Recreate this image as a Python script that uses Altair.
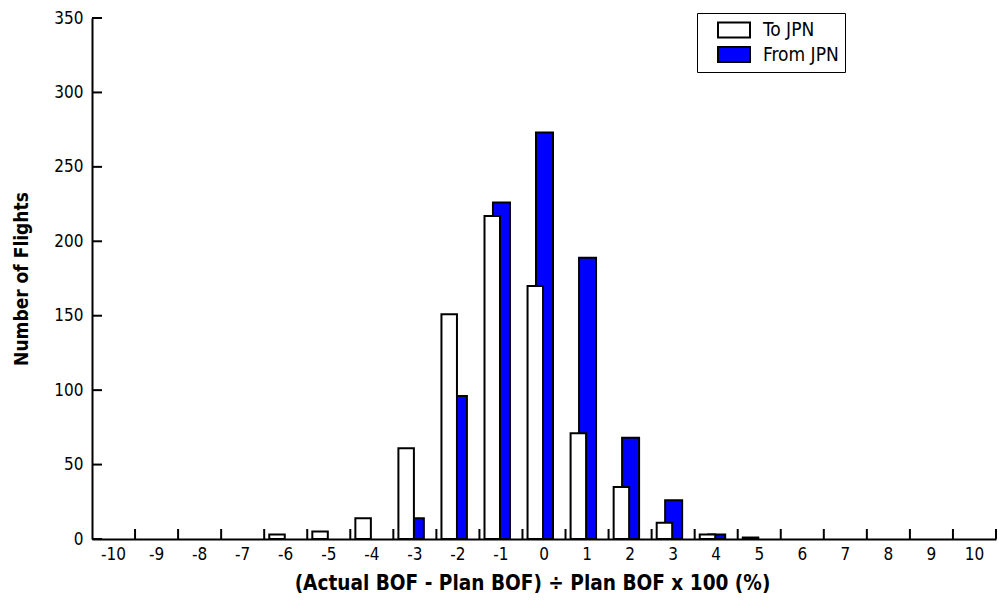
import altair as alt
import pandas as pd

# ---- data ----
bins = list(range(-10, 11))
to_jpn = [0, 0, 0, 0, 3, 5, 14, 61, 151, 217, 170, 71, 35, 11, 3, 1, 0, 0, 0, 0, 0]
from_jpn = [0, 0, 0, 0, 0, 0, 0, 14, 96, 226, 273, 189, 68, 26, 3, 0, 0, 0, 0, 0, 0]
series = ["To JPN", "From JPN"]
y_ticks = list(range(0, 351, 50))

rows = []
for b, t, f in zip(bins, to_jpn, from_jpn):
    rows.append({"bin": b, "series": "To JPN", "flights": t})
    rows.append({"bin": b, "series": "From JPN", "flights": f})
df = pd.DataFrame(rows)
df = df[df["flights"] > 0]

W, H = 904, 521
FONT = "DejaVu Sans Condensed"

x_scale = alt.Scale(type="band", domain=bins, paddingInner=0, paddingOuter=0)
y_scale = alt.Scale(domain=[0, 350], nice=False)
fill_scale = alt.Scale(domain=series, range=["#ffffff", "#0000ff"])

x_axis = alt.Axis(
    title="(Actual BOF - Plan BOF) ÷ Plan BOF x 100 (%)",
    labelAngle=0, ticks=False, labelPadding=7, titlePadding=11, grid=False,
    titleX=440, titleFontSize=20.6,
)
y_axis = alt.Axis(
    title="Number of Flights", values=y_ticks, ticks=False, grid=False,
    labelPadding=9, titlePadding=22, titleFontSize=19,
)

legend = alt.Legend(
    title=None, orient="none", legendX=605, legendY=-5,
    symbolType="M-1.6,-0.75H1.6V0.75H-1.6Z", symbolSize=400,
    symbolStrokeColor="black", symbolStrokeWidth=2,
    labelFont=FONT, labelFontSize=19, labelColor="black", labelOffset=18,
    labelExpr="datum.label + '\u00a0\u00a0\u00a0\u00a0'",
    strokeColor="black", fillColor="white", padding=6, symbolOffset=20,
    rowPadding=0.5,
)

base = alt.Chart(df)

blue = base.transform_filter(alt.datum.series == "From JPN").mark_bar(
    width=17, xOffset=0.5, stroke="black", strokeWidth=2
).encode(
    x=alt.X("bin:O", scale=x_scale, axis=x_axis),
    y=alt.Y("flights:Q", scale=y_scale, axis=y_axis),
    fill=alt.Fill("series:N", scale=fill_scale, legend=legend),
)

white = base.transform_filter(alt.datum.series == "To JPN").mark_bar(
    width=15.5, xOffset=-8.7, stroke="black", strokeWidth=2
).encode(
    x=alt.X("bin:O", scale=x_scale, axis=x_axis),
    y=alt.Y("flights:Q", scale=y_scale, axis=y_axis),
    fill=alt.Fill("series:N", scale=fill_scale, legend=legend),
)

yticks = alt.Chart(pd.DataFrame({"flights": y_ticks})).mark_rule(
    color="black", strokeWidth=2
).encode(
    y=alt.Y("flights:Q", scale=y_scale, axis=y_axis),
    x=alt.value(0),
    x2=alt.value(10),
)

xticks = alt.Chart(pd.DataFrame({"bin": bins})).mark_rule(
    color="black", strokeWidth=2
).encode(
    x=alt.X("bin:O", scale=x_scale, bandPosition=1, axis=x_axis),
    y=alt.value(H),
    y2=alt.value(H - 10),
)

chart = alt.layer(blue, white, yticks, xticks).properties(
    width=W, height=H,
    autosize=alt.AutoSizeParams(type="none"),
    padding={"left": 84, "top": 10, "right": 1, "bottom": 58},
).configure_view(stroke=None).configure_axis(
    domainColor="black", domainWidth=2,
    labelColor="black", titleColor="black",
    labelFont=FONT, titleFont=FONT,
    labelFontSize=17, titleFontSize=20, titleFontWeight="bold",
)

chart.save("out.html", embed_options={"renderer": "svg", "actions": False})
